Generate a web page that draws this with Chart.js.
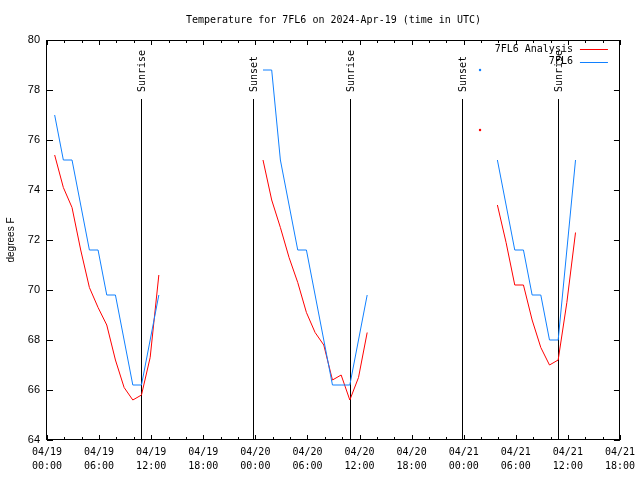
<!DOCTYPE html>
<html>
<head>
<meta charset="utf-8">
<title>Temperature for 7FL6</title>
<script src="https://cdn.jsdelivr.net/npm/chart.js@4.4.1/dist/chart.umd.min.js"></script>
<style>
    html, body { margin: 0; padding: 0; background: #fff; }
    #wrap { width: 640px; height: 480px; }
</style>
</head>
<body>
<div id="wrap"><canvas id="tempChart" width="640" height="480"></canvas></div>
<script>
// ===== DATA =====

// Observation times (UTC), "day-of-April hh:mm"
const obsTimes = [
    '19 00:53', '19 01:53', '19 02:53', '19 03:53', '19 04:53', '19 05:53', '19 06:53',
    '19 07:53', '19 08:53', '19 09:53', '19 10:53', '19 11:53', '19 12:53',
    '20 00:53', '20 01:53', '20 02:53', '20 03:53', '20 04:53', '20 05:53', '20 06:53',
    '20 07:53', '20 08:53', '20 09:53', '20 10:53', '20 11:53', '20 12:53',
    '21 01:53',
    '21 03:53', '21 04:53', '21 05:53', '21 06:53', '21 07:53', '21 08:53', '21 09:53',
    '21 10:53', '21 11:53', '21 12:53'
];

// 7FL6 Analysis (red)
const analysisTemps = [
    75.4, 74.1, 73.3, 71.6, 70.1, 69.3, 68.6, 67.2, 66.1, 65.6, 65.8, 67.3, 70.6,
    75.2, 73.6, 72.5, 71.3, 70.3, 69.1, 68.3, 67.8, 66.4, 66.6, 65.6, 66.5, 68.3,
    76.4,
    73.4, 71.9, 70.2, 70.2, 68.8, 67.7, 67.0, 67.2, 69.5, 72.3
];

// 7FL6 station observations (blue)
const stationTemps = [
    77.0, 75.2, 75.2, 73.4, 71.6, 71.6, 69.8, 69.8, 68.0, 66.2, 66.2, 68.0, 69.8,
    78.8, 78.8, 75.2, 73.4, 71.6, 71.6, 69.8, 68.0, 66.2, 66.2, 66.2, 68.0, 69.8,
    78.8,
    75.2, 73.4, 71.6, 71.6, 69.8, 69.8, 68.0, 68.0, 71.6, 75.2
];

// Sunrise / sunset markers
const sunTimes = ['19 10:53', '19 23:45', '20 10:52', '20 23:46', '21 10:51'];
const sunLabels = ['Sunrise', 'Sunset', 'Sunrise', 'Sunset', 'Sunrise'];

// X tick labels (every 6 hours)
const xTickDates = ['04/19', '04/19', '04/19', '04/19', '04/20', '04/20',
                    '04/20', '04/20', '04/21', '04/21', '04/21', '04/21'];
const xTickHours = ['00:00', '06:00', '12:00', '18:00', '00:00', '06:00',
                    '12:00', '18:00', '00:00', '06:00', '12:00', '18:00'];

const MONO = '"DejaVu Sans Mono", monospace';
const SANS = '"Liberation Sans", Arial, sans-serif';

// ===== HELPERS =====

// "19 00:53" -> hours since 04/19 00:00
function toHours(stamp) {
    const parts = stamp.split(' ');
    const hm = parts[1].split(':');
    return (parseInt(parts[0], 10) - 19) * 24 + parseInt(hm[0], 10) + parseInt(hm[1], 10) / 60;
}

function buildSeries(values) {
    return obsTimes.map((t, i) => ({ x: toHours(t), y: values[i] }));
}

// single points with no neighbour within the gap size get a dot
function loneDot(ctx) {
    const d = ctx.dataset.data;
    const i = ctx.dataIndex;
    if (!d[i]) return 0;
    const far = p => !p || Math.abs(p.x - d[i].x) > 1.5;
    return far(d[i - 1]) && far(d[i + 1]) ? 1.2 : 0;
}

// ===== PLUGINS =====

const sunLinesPlugin = {
    id: 'sunLines',
    beforeDatasetsDraw(chart) {
        const ctx = chart.ctx;
        const area = chart.chartArea;
        const xs = chart.scales.x;
        ctx.save();
        sunTimes.forEach((t, i) => {
            const px = Math.round(xs.getPixelForValue(toHours(t))) + 0.5;
            ctx.strokeStyle = '#000';
            ctx.lineWidth = 1;
            ctx.beginPath();
            ctx.moveTo(px, area.top + 59);
            ctx.lineTo(px, area.bottom);
            ctx.stroke();

            ctx.save();
            ctx.translate(px + 1, area.top + 52);
            ctx.rotate(-Math.PI / 2);
            ctx.fillStyle = '#000';
            ctx.font = '10px ' + MONO;
            ctx.textAlign = 'left';
            ctx.textBaseline = 'middle';
            ctx.fillText(sunLabels[i], 0, 0);
            ctx.restore();
        });
        ctx.restore();
    }
};

const framePlugin = {
    id: 'frame',
    afterDraw(chart) {
        const ctx = chart.ctx;
        const area = chart.chartArea;
        const xs = chart.scales.x;
        const ys = chart.scales.y;
        ctx.save();
        ctx.strokeStyle = '#000';
        ctx.lineWidth = 1;

        // border
        ctx.strokeRect(Math.round(area.left) - 0.5, Math.round(area.top) + 0.5,
                       Math.round(area.right - area.left), Math.round(area.bottom - area.top) - 1);

        // inward ticks, mirrored top/bottom and left/right
        ctx.beginPath();
        xs.ticks.forEach(tick => {
            const px = Math.round(xs.getPixelForValue(tick.value)) + 0.5;
            const len = tick.value % 6 === 0 ? 5 : 3;
            ctx.moveTo(px, area.bottom);
            ctx.lineTo(px, area.bottom - len);
            ctx.moveTo(px, area.top);
            ctx.lineTo(px, area.top + len);
        });
        ys.ticks.forEach(tick => {
            const py = Math.round(ys.getPixelForValue(tick.value)) + 0.5;
            ctx.moveTo(area.left, py);
            ctx.lineTo(area.left + 6, py);
            ctx.moveTo(area.right, py);
            ctx.lineTo(area.right - 6, py);
        });
        ctx.stroke();

        // title
        ctx.fillStyle = '#000';
        ctx.font = '10px ' + MONO;
        ctx.textAlign = 'center';
        ctx.textBaseline = 'middle';
        ctx.fillText('Temperature for 7FL6 on 2024-Apr-19 (time in UTC)', (area.left + area.right) / 2, 20);

        // legend: text right-aligned, line sample to the right
        chart.data.datasets.forEach((ds, i) => {
            const y = area.top + 9 + i * 12.5;
            ctx.fillStyle = '#000';
            ctx.textAlign = 'right';
            ctx.fillText(ds.label, area.right - 47, y);
            ctx.strokeStyle = ds.borderColor;
            ctx.beginPath();
            ctx.moveTo(area.right - 40, Math.round(y) + 0.5);
            ctx.lineTo(area.right - 12, Math.round(y) + 0.5);
            ctx.stroke();
        });
        ctx.restore();
    }
};

// ===== CHART =====

function createTempChart() {
    const canvas = document.getElementById('tempChart');
    if (!canvas) return;

    new Chart(canvas, {
        type: 'line',
        data: {
            datasets: [
                {
                    label: '7FL6 Analysis',
                    data: buildSeries(analysisTemps),
                    borderColor: '#ff0000',
                    backgroundColor: '#ff0000',
                    borderWidth: 1,
                    pointRadius: loneDot,
                    pointBorderWidth: 0,
                    tension: 0,
                    spanGaps: 1.5,
                    order: 2
                },
                {
                    label: '7FL6',
                    data: buildSeries(stationTemps),
                    borderColor: '#1080ff',
                    backgroundColor: '#1080ff',
                    borderWidth: 1,
                    pointRadius: loneDot,
                    pointBorderWidth: 0,
                    tension: 0,
                    spanGaps: 1.5,
                    order: 1
                }
            ]
        },
        options: {
            responsive: false,
            animation: false,
            devicePixelRatio: 1,
            layout: { padding: { left: 0, right: 19, top: 40, bottom: 0 } },
            plugins: {
                legend: { display: false },
                title: { display: false },
                tooltip: { enabled: false }
            },
            scales: {
                x: {
                    type: 'linear',
                    min: 0,
                    max: 66,
                    grid: { display: false, drawTicks: false },
                    border: { display: false },
                    afterFit: scale => { scale.height = 40; },
                    ticks: {
                        stepSize: 2,
                        autoSkip: false,
                        maxRotation: 0,
                        padding: 5,
                        color: '#000',
                        font: { family: MONO, size: 10, lineHeight: 1.4 },
                        callback: function(value) {
                            if (value % 6 !== 0) return '';
                            const idx = value / 6;
                            return [xTickDates[idx], xTickHours[idx]];
                        }
                    }
                },
                y: {
                    min: 64,
                    max: 80,
                    grid: { display: false, drawTicks: false },
                    border: { display: false },
                    afterFit: scale => { scale.width = 47; },
                    ticks: {
                        stepSize: 2,
                        padding: 7,
                        color: '#000',
                        font: { family: SANS, size: 11 }
                    },
                    title: {
                        display: true,
                        text: 'degrees F',
                        color: '#000',
                        padding: { top: 5, bottom: 0 },
                        font: { family: SANS, size: 10 }
                    }
                }
            }
        },
        plugins: [sunLinesPlugin, framePlugin]
    });
}

document.addEventListener('DOMContentLoaded', function() {
    if (typeof Chart !== 'undefined') {
        createTempChart();
    } else {
        console.log('Chart.js not loaded');
    }
});
</script>
</body>
</html>
